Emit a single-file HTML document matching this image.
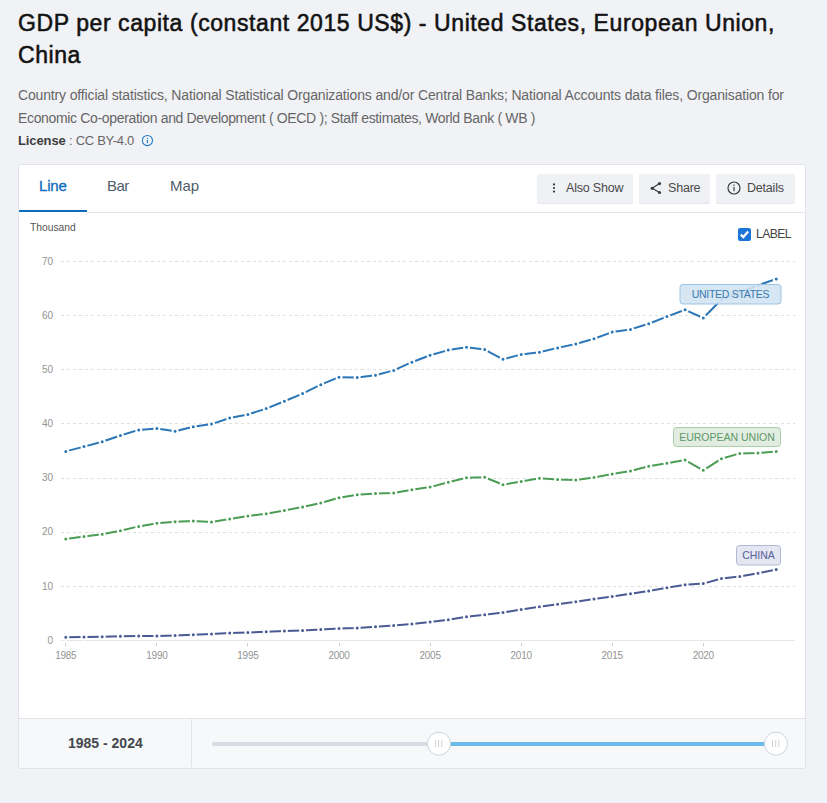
<!DOCTYPE html>
<html><head><meta charset="utf-8">
<style>
*{box-sizing:border-box;margin:0;padding:0}
html,body{width:827px;height:803px;overflow:hidden;background:#f1f2f6;font-family:"Liberation Sans",sans-serif}
.abs{position:absolute;white-space:pre}
#title{left:18px;top:7px;font-size:23px;color:#121212;line-height:32px;-webkit-text-stroke:0.55px #121212;letter-spacing:0.58px}
.src{left:18px;font-size:14px;color:#666;line-height:20px}
#card{position:absolute;left:18px;top:164px;width:788px;height:605px;background:#fff;border:1px solid #e1e5ea;border-radius:2px}
.tab{position:absolute;font-size:14px;color:#4f5d6b}
.btn{position:absolute;top:174px;height:29px;background:#eff1f5;border-radius:2px;box-shadow:0 1px 0 #e2e5ea}
.btxt{position:absolute;font-size:12.5px;letter-spacing:-0.2px;color:#4a4a4a;white-space:pre}
#footer{position:absolute;left:19px;top:718px;width:786px;height:50px;background:#f7f8fa;border-top:1px solid #e1e5ea}
</style></head><body>
<div class="abs" id="title">GDP per capita (constant 2015 US$) - United States, European Union,
China</div>
<div class="abs src" style="top:85px;letter-spacing:-0.15px">Country official statistics, National Statistical Organizations and/or Central Banks; National Accounts data files, Organisation for</div>
<div class="abs src" style="top:108px;letter-spacing:-0.34px">Economic Co-operation and Development ( OECD ); Staff estimates, World Bank ( WB )</div>
<div class="abs src" style="top:131px;color:#666;font-size:13px;letter-spacing:-0.3px"><b style="color:#3d3d3d;letter-spacing:-0.1px">License</b> : CC BY-4.0</div>
<svg class="abs" style="left:142px;top:134px" width="13" height="13" viewBox="0 0 13 13"><circle cx="5.4" cy="6.5" r="5.1" fill="none" stroke="#1f78c8" stroke-width="1.05"/><rect x="4.85" y="5.8" width="1.1" height="3.4" fill="#1f78c8"/><rect x="4.85" y="3.9" width="1.1" height="1.1" fill="#1f78c8"/></svg>

<div id="card"></div>
<!-- tabs -->
<div class="tab abs" style="left:39px;top:177px;color:#0c6cbd;font-size:15px;-webkit-text-stroke:0.3px #0c6cbd;letter-spacing:-0.2px">Line</div>
<div style="position:absolute;left:19px;top:210px;width:68px;height:2px;background:#0c6cbd"></div>
<div style="position:absolute;left:87px;top:212px;width:718px;height:1px;background:#e1e5ea"></div>
<div class="tab abs" style="left:107px;top:177px;font-size:15px;letter-spacing:-0.5px">Bar</div>
<div class="tab abs" style="left:170px;top:177px;font-size:15px;letter-spacing:-0.1px">Map</div>

<!-- buttons -->
<div class="btn" style="left:537px;width:96px"></div>
<div class="btn" style="left:639px;width:71px"></div>
<div class="btn" style="left:716px;width:79px"></div>
<svg class="abs" style="left:551px;top:182px" width="6" height="12"><circle cx="3" cy="2.4" r="1.1" fill="#3a3a3a"/><circle cx="3" cy="6" r="1.1" fill="#3a3a3a"/><circle cx="3" cy="9.6" r="1.1" fill="#3a3a3a"/></svg>
<div class="btxt" style="left:566px;top:181px">Also Show</div>
<svg class="abs" style="left:650px;top:182px" width="12" height="13" viewBox="0 0 12 13"><circle cx="9.5" cy="1.6" r="1.6" fill="#3d3d3d"/><circle cx="2.2" cy="6.3" r="1.6" fill="#3d3d3d"/><circle cx="9.5" cy="10.5" r="1.6" fill="#3d3d3d"/><path d="M9.5 1.6 L2.2 6.3 L9.5 10.5" fill="none" stroke="#3d3d3d" stroke-width="1.2"/></svg>
<div class="btxt" style="left:668px;top:181px">Share</div>
<svg class="abs" style="left:727px;top:181px" width="14" height="14" viewBox="0 0 14 14"><circle cx="7" cy="7" r="6" fill="none" stroke="#3d3d3d" stroke-width="1.2"/><rect x="6.4" y="6" width="1.2" height="4.2" fill="#3d3d3d"/><rect x="6.4" y="3.6" width="1.2" height="1.3" fill="#3d3d3d"/></svg>
<div class="btxt" style="left:747px;top:181px">Details</div>

<!-- chart header -->
<div class="abs" style="left:30px;top:222px;font-size:10.3px;color:#555">Thousand</div>
<svg class="abs" style="left:738px;top:228px" width="13" height="13" viewBox="0 0 13 13"><rect x="0" y="0" width="13" height="13" rx="2" fill="#1b74d8"/><path d="M2.8 6.6 L5.3 9.1 L10.2 3.6" fill="none" stroke="#fff" stroke-width="2.2"/></svg>
<div class="abs" style="left:756px;top:227px;font-size:12.2px;letter-spacing:-0.6px;color:#444">LABEL</div>

<!-- chart -->
<svg class="abs" style="left:0;top:0" width="827" height="803" viewBox="0 0 827 803">
<g stroke="#dedede" stroke-width="1" stroke-dasharray="3,3">
<line x1="61" y1="586.5" x2="795" y2="586.5"/>
<line x1="61" y1="532.5" x2="795" y2="532.5"/>
<line x1="61" y1="478.5" x2="795" y2="478.5"/>
<line x1="61" y1="423.5" x2="795" y2="423.5"/>
<line x1="61" y1="369.5" x2="795" y2="369.5"/>
<line x1="61" y1="315.5" x2="795" y2="315.5"/>
<line x1="61" y1="261.5" x2="795" y2="261.5"/>

</g>
<line x1="61" y1="640.5" x2="795" y2="640.5" stroke="#e3e6ea" stroke-width="1"/>
<g stroke="#cfcfcf" stroke-width="1"><line x1="65.5" y1="643" x2="65.5" y2="646.5"/><line x1="156.5" y1="643" x2="156.5" y2="646.5"/><line x1="247.5" y1="643" x2="247.5" y2="646.5"/><line x1="339.5" y1="643" x2="339.5" y2="646.5"/><line x1="430.5" y1="643" x2="430.5" y2="646.5"/><line x1="521.5" y1="643" x2="521.5" y2="646.5"/><line x1="612.5" y1="643" x2="612.5" y2="646.5"/><line x1="703.5" y1="643" x2="703.5" y2="646.5"/></g>
<g font-family="Liberation Sans" font-size="10" fill="#939393" text-anchor="end">
<text x="53" y="643.7">0</text>
<text x="53" y="589.5">10</text>
<text x="53" y="535.4">20</text>
<text x="53" y="481.2">30</text>
<text x="53" y="427.1">40</text>
<text x="53" y="372.9">50</text>
<text x="53" y="318.8">60</text>
<text x="53" y="264.6">70</text>

</g>
<g font-family="Liberation Sans" font-size="10" letter-spacing="-0.25" fill="#939393" text-anchor="middle">
<text x="65.8" y="659">1985</text>
<text x="156.9" y="659">1990</text>
<text x="247.9" y="659">1995</text>
<text x="339.0" y="659">2000</text>
<text x="430.1" y="659">2005</text>
<text x="521.2" y="659">2010</text>
<text x="612.2" y="659">2015</text>
<text x="703.3" y="659">2020</text>

</g>
<polyline points="65.8,637.2 84.0,637.0 102.2,636.8 120.4,636.3 138.7,636.0 156.9,636.0 175.1,635.5 193.3,634.8 211.5,634.1 229.7,633.1 247.9,632.4 266.2,631.8 284.4,631.1 302.6,630.4 320.8,629.4 339.0,628.5 357.2,628.0 375.5,626.8 393.7,625.6 411.9,623.9 430.1,622.0 448.3,619.8 466.5,616.7 484.7,614.7 503.0,612.6 521.2,609.4 539.4,606.8 557.6,604.3 575.8,601.7 594.0,599.0 612.2,596.4 630.5,593.8 648.7,590.9 666.9,587.7 685.1,584.8 703.3,583.6 721.5,578.5 739.8,576.6 758.0,573.2 776.2,569.6" fill="none" stroke="#4a5a93" stroke-width="2" stroke-linejoin="round"/>
<g fill="#4a5a93" stroke="#fff" stroke-width="2"><circle cx="65.8" cy="637.2" r="2.5"/><circle cx="84.0" cy="637.0" r="2.5"/><circle cx="102.2" cy="636.8" r="2.5"/><circle cx="120.4" cy="636.3" r="2.5"/><circle cx="138.7" cy="636.0" r="2.5"/><circle cx="156.9" cy="636.0" r="2.5"/><circle cx="175.1" cy="635.5" r="2.5"/><circle cx="193.3" cy="634.8" r="2.5"/><circle cx="211.5" cy="634.1" r="2.5"/><circle cx="229.7" cy="633.1" r="2.5"/><circle cx="247.9" cy="632.4" r="2.5"/><circle cx="266.2" cy="631.8" r="2.5"/><circle cx="284.4" cy="631.1" r="2.5"/><circle cx="302.6" cy="630.4" r="2.5"/><circle cx="320.8" cy="629.4" r="2.5"/><circle cx="339.0" cy="628.5" r="2.5"/><circle cx="357.2" cy="628.0" r="2.5"/><circle cx="375.5" cy="626.8" r="2.5"/><circle cx="393.7" cy="625.6" r="2.5"/><circle cx="411.9" cy="623.9" r="2.5"/><circle cx="430.1" cy="622.0" r="2.5"/><circle cx="448.3" cy="619.8" r="2.5"/><circle cx="466.5" cy="616.7" r="2.5"/><circle cx="484.7" cy="614.7" r="2.5"/><circle cx="503.0" cy="612.6" r="2.5"/><circle cx="521.2" cy="609.4" r="2.5"/><circle cx="539.4" cy="606.8" r="2.5"/><circle cx="557.6" cy="604.3" r="2.5"/><circle cx="575.8" cy="601.7" r="2.5"/><circle cx="594.0" cy="599.0" r="2.5"/><circle cx="612.2" cy="596.4" r="2.5"/><circle cx="630.5" cy="593.8" r="2.5"/><circle cx="648.7" cy="590.9" r="2.5"/><circle cx="666.9" cy="587.7" r="2.5"/><circle cx="685.1" cy="584.8" r="2.5"/><circle cx="703.3" cy="583.6" r="2.5"/><circle cx="721.5" cy="578.5" r="2.5"/><circle cx="739.8" cy="576.6" r="2.5"/><circle cx="758.0" cy="573.2" r="2.5"/><circle cx="776.2" cy="569.6" r="2.5"/></g>

<polyline points="65.8,538.9 84.0,536.5 102.2,534.3 120.4,530.7 138.7,526.4 156.9,523.2 175.1,521.8 193.3,521.0 211.5,522.0 229.7,519.1 247.9,516.0 266.2,513.7 284.4,510.5 302.6,506.9 320.8,503.0 339.0,497.7 357.2,494.8 375.5,493.6 393.7,492.9 411.9,489.7 430.1,487.1 448.3,482.3 466.5,477.7 484.7,477.2 503.0,484.7 521.2,481.6 539.4,478.2 557.6,479.4 575.8,479.9 594.0,477.5 612.2,473.9 630.5,471.0 648.7,466.2 666.9,463.3 685.1,460.1 703.3,470.3 721.5,458.7 739.8,453.4 758.0,453.1 776.2,451.4" fill="none" stroke="#4b9d55" stroke-width="2" stroke-linejoin="round"/>
<g fill="#4b9d55" stroke="#fff" stroke-width="2"><circle cx="65.8" cy="538.9" r="2.5"/><circle cx="84.0" cy="536.5" r="2.5"/><circle cx="102.2" cy="534.3" r="2.5"/><circle cx="120.4" cy="530.7" r="2.5"/><circle cx="138.7" cy="526.4" r="2.5"/><circle cx="156.9" cy="523.2" r="2.5"/><circle cx="175.1" cy="521.8" r="2.5"/><circle cx="193.3" cy="521.0" r="2.5"/><circle cx="211.5" cy="522.0" r="2.5"/><circle cx="229.7" cy="519.1" r="2.5"/><circle cx="247.9" cy="516.0" r="2.5"/><circle cx="266.2" cy="513.7" r="2.5"/><circle cx="284.4" cy="510.5" r="2.5"/><circle cx="302.6" cy="506.9" r="2.5"/><circle cx="320.8" cy="503.0" r="2.5"/><circle cx="339.0" cy="497.7" r="2.5"/><circle cx="357.2" cy="494.8" r="2.5"/><circle cx="375.5" cy="493.6" r="2.5"/><circle cx="393.7" cy="492.9" r="2.5"/><circle cx="411.9" cy="489.7" r="2.5"/><circle cx="430.1" cy="487.1" r="2.5"/><circle cx="448.3" cy="482.3" r="2.5"/><circle cx="466.5" cy="477.7" r="2.5"/><circle cx="484.7" cy="477.2" r="2.5"/><circle cx="503.0" cy="484.7" r="2.5"/><circle cx="521.2" cy="481.6" r="2.5"/><circle cx="539.4" cy="478.2" r="2.5"/><circle cx="557.6" cy="479.4" r="2.5"/><circle cx="575.8" cy="479.9" r="2.5"/><circle cx="594.0" cy="477.5" r="2.5"/><circle cx="612.2" cy="473.9" r="2.5"/><circle cx="630.5" cy="471.0" r="2.5"/><circle cx="648.7" cy="466.2" r="2.5"/><circle cx="666.9" cy="463.3" r="2.5"/><circle cx="685.1" cy="460.1" r="2.5"/><circle cx="703.3" cy="470.3" r="2.5"/><circle cx="721.5" cy="458.7" r="2.5"/><circle cx="739.8" cy="453.4" r="2.5"/><circle cx="758.0" cy="453.1" r="2.5"/><circle cx="776.2" cy="451.4" r="2.5"/></g>

<polyline points="65.8,451.4 84.0,446.6 102.2,441.7 120.4,435.5 138.7,429.9 156.9,428.4 175.1,431.3 193.3,426.7 211.5,424.1 229.7,418.0 247.9,414.5 266.2,408.6 284.4,401.3 302.6,393.6 320.8,384.7 339.0,377.2 357.2,377.4 375.5,375.2 393.7,370.4 411.9,362.2 430.1,355.3 448.3,350.1 466.5,347.2 484.7,349.6 503.0,359.3 521.2,354.4 539.4,352.2 557.6,347.9 575.8,344.0 594.0,338.7 612.2,332.1 630.5,329.4 648.7,323.8 666.9,316.6 685.1,309.8 703.3,318.0 721.5,299.5 739.8,292.6 758.0,285.3 776.2,279.0" fill="none" stroke="#2a76b6" stroke-width="2" stroke-linejoin="round"/>
<g fill="#2a76b6" stroke="#fff" stroke-width="2"><circle cx="65.8" cy="451.4" r="2.5"/><circle cx="84.0" cy="446.6" r="2.5"/><circle cx="102.2" cy="441.7" r="2.5"/><circle cx="120.4" cy="435.5" r="2.5"/><circle cx="138.7" cy="429.9" r="2.5"/><circle cx="156.9" cy="428.4" r="2.5"/><circle cx="175.1" cy="431.3" r="2.5"/><circle cx="193.3" cy="426.7" r="2.5"/><circle cx="211.5" cy="424.1" r="2.5"/><circle cx="229.7" cy="418.0" r="2.5"/><circle cx="247.9" cy="414.5" r="2.5"/><circle cx="266.2" cy="408.6" r="2.5"/><circle cx="284.4" cy="401.3" r="2.5"/><circle cx="302.6" cy="393.6" r="2.5"/><circle cx="320.8" cy="384.7" r="2.5"/><circle cx="339.0" cy="377.2" r="2.5"/><circle cx="357.2" cy="377.4" r="2.5"/><circle cx="375.5" cy="375.2" r="2.5"/><circle cx="393.7" cy="370.4" r="2.5"/><circle cx="411.9" cy="362.2" r="2.5"/><circle cx="430.1" cy="355.3" r="2.5"/><circle cx="448.3" cy="350.1" r="2.5"/><circle cx="466.5" cy="347.2" r="2.5"/><circle cx="484.7" cy="349.6" r="2.5"/><circle cx="503.0" cy="359.3" r="2.5"/><circle cx="521.2" cy="354.4" r="2.5"/><circle cx="539.4" cy="352.2" r="2.5"/><circle cx="557.6" cy="347.9" r="2.5"/><circle cx="575.8" cy="344.0" r="2.5"/><circle cx="594.0" cy="338.7" r="2.5"/><circle cx="612.2" cy="332.1" r="2.5"/><circle cx="630.5" cy="329.4" r="2.5"/><circle cx="648.7" cy="323.8" r="2.5"/><circle cx="666.9" cy="316.6" r="2.5"/><circle cx="685.1" cy="309.8" r="2.5"/><circle cx="703.3" cy="318.0" r="2.5"/><circle cx="721.5" cy="299.5" r="2.5"/><circle cx="739.8" cy="292.6" r="2.5"/><circle cx="758.0" cy="285.3" r="2.5"/><circle cx="776.2" cy="279.0" r="2.5"/></g>

<rect x="680" y="284.5" width="101" height="19.5" rx="3" fill="#d1e3f1" fill-opacity="0.9" stroke="#9ec4e1"/>
<text x="730.5" y="298" font-family="Liberation Sans" font-size="10.5" letter-spacing="-0.3" fill="#3a78b0" text-anchor="middle">UNITED STATES</text>
<rect x="673.5" y="427.5" width="107" height="19" rx="3" fill="#dfeadf" fill-opacity="0.9" stroke="#a8d0a8"/>
<text x="727" y="441" font-family="Liberation Sans" font-size="10.5" fill="#5c9a66" text-anchor="middle">EUROPEAN UNION</text>
<rect x="736.5" y="545.5" width="44" height="19.5" rx="3" fill="#e1e3ef" fill-opacity="0.9" stroke="#b3b8d6"/>
<text x="758.5" y="559" font-family="Liberation Sans" font-size="10.5" fill="#56609a" text-anchor="middle">CHINA</text>
</svg>

<!-- footer -->
<div id="footer"></div>
<div style="position:absolute;left:191px;top:719px;width:1px;height:48px;background:#e1e5ea"></div>
<div class="abs" style="left:68px;top:735px;font-size:14px;font-weight:bold;color:#44484d">1985 - 2024</div>
<div style="position:absolute;left:212px;top:742px;width:227px;height:4px;border-radius:2px;background:#d6dce2"></div>
<div style="position:absolute;left:439px;top:742px;width:337px;height:4px;background:#6cb9ec"></div>
<svg class="abs" style="left:426px;top:731px" width="26" height="26" viewBox="0 0 26 26"><circle cx="13" cy="12.7" r="11.5" fill="#fff" stroke="#cdd5dc"/><g stroke="#d2d2d2" stroke-width="1"><line x1="9.5" y1="9" x2="9.5" y2="16"/><line x1="12.7" y1="9" x2="12.7" y2="16"/><line x1="15.8" y1="9" x2="15.8" y2="16"/></g></svg>
<svg class="abs" style="left:763px;top:731px" width="26" height="26" viewBox="0 0 26 26"><circle cx="13" cy="12.7" r="11.5" fill="#fff" stroke="#cdd5dc"/><g stroke="#d2d2d2" stroke-width="1"><line x1="9.5" y1="9" x2="9.5" y2="16"/><line x1="12.7" y1="9" x2="12.7" y2="16"/><line x1="15.8" y1="9" x2="15.8" y2="16"/></g></svg>
</body></html>
